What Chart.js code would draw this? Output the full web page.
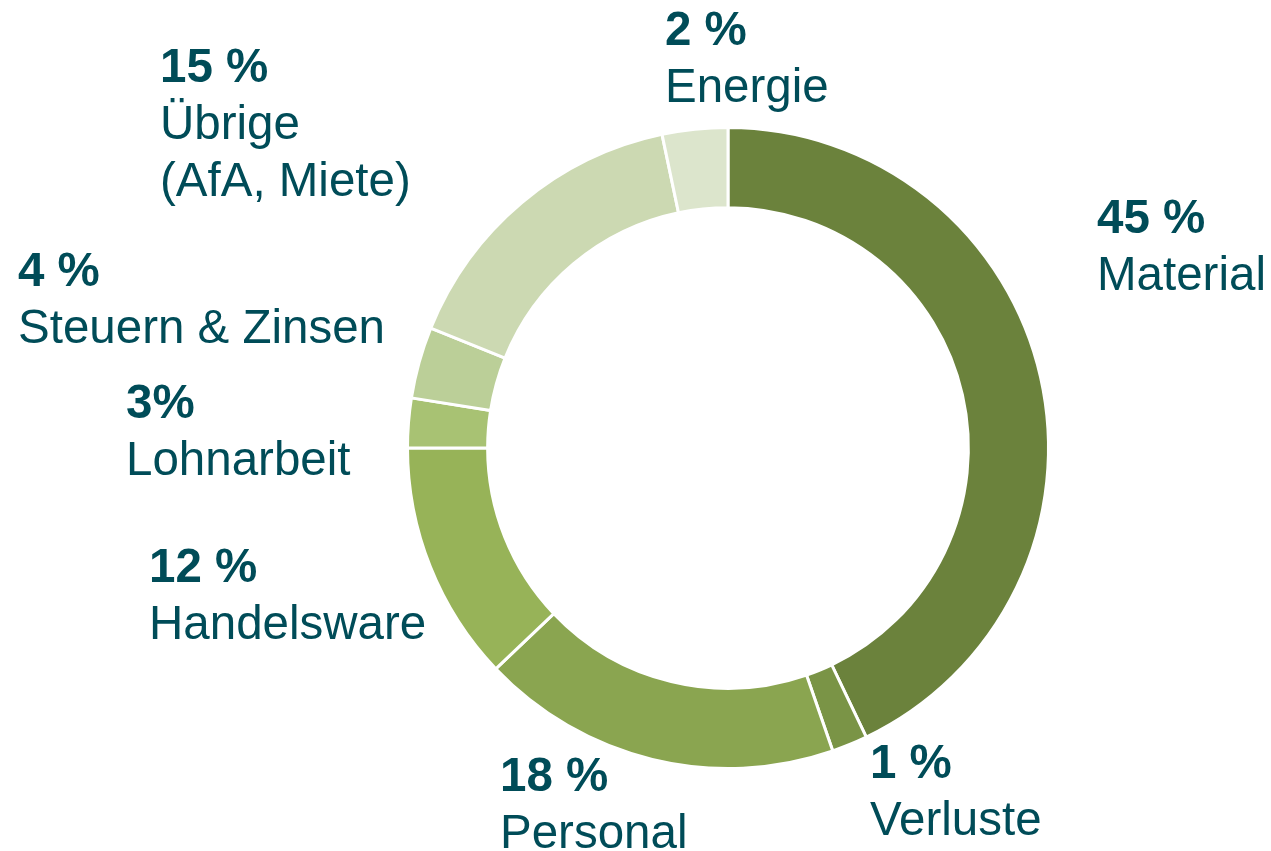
<!DOCTYPE html>
<html>
<head>
<meta charset="utf-8">
<script src="https://cdn.jsdelivr.net/npm/chart.js@4"></script>
<style>
  html, body { margin: 0; padding: 0; background: #fff; }
  #wrap { width: 1271px; height: 851px; }
</style>
</head>
<body>
<div id="wrap"><canvas id="myChart" width="1271" height="851"></canvas></div>
<script>
// segments clockwise from 12 o'clock
var categories = ['Material', 'Verluste', 'Personal', 'Handelsware', 'Lohnarbeit', 'Steuern & Zinsen', 'Übrige (AfA, Miete)', 'Energie'];
// shares as drawn (arc sizes)
var shares = [42.9, 1.8, 18.2, 12.1, 2.5, 3.6, 15.6, 3.3];
// printed percentage labels
var percentLabels = ['45 %', '1 %', '18 %', '12 %', '3%', '4 %', '15 %', '2 %'];
// name lines of each label
var nameLines = [['Material'], ['Verluste'], ['Personal'], ['Handelsware'], ['Lohnarbeit'], ['Steuern & Zinsen'], ['Übrige', '(AfA, Miete)'], ['Energie']];

var colors = ['#6b823c', '#7a9446', '#8aa550', '#97b358', '#a8c273', '#bbcf98', '#ccd9b2', '#dce5cc'];
// left x / first baseline of each label block
var labelPos = [[1097, 233], [870, 778], [500, 791], [149, 582], [126, 418], [18, 286], [160, 82], [665, 45]];

var textPlugin = {
    id: 'outsideLabels',
    afterDraw: function(chart) {
        var c = chart.ctx;
        c.save();
        c.fillStyle = '#004c58';
        c.textBaseline = 'alphabetic';
        c.textAlign = 'left';
        for (var i = 0; i < categories.length; i++) {
            var x = labelPos[i][0], y = labelPos[i][1];
            c.font = 'bold 47.5px "Liberation Sans", Arial, sans-serif';
            c.fillText(percentLabels[i], x, y);
            c.font = '47.5px "Liberation Sans", Arial, sans-serif';
            for (var j = 0; j < nameLines[i].length; j++) {
                c.fillText(nameLines[i][j], x, y + 57 * (j + 1));
            }
        }
        c.restore();
    }
};

var ctx = document.getElementById('myChart');
var myChart = new Chart(ctx, {
    type: 'doughnut',
    data: {
        labels: categories,
        datasets: [{
            data: shares,
            backgroundColor: colors,
            borderColor: '#ffffff',
            borderWidth: 3
        }]
    },
    options: {
        responsive: false,
        animation: false,
        cutout: '75%',
        layout: { padding: { top: 126, bottom: 81, left: 406, right: 221 } },
        plugins: {
            legend: { display: false },
            tooltip: { enabled: false }
        }
    },
    plugins: [textPlugin]
});
</script>
</body>
</html>
